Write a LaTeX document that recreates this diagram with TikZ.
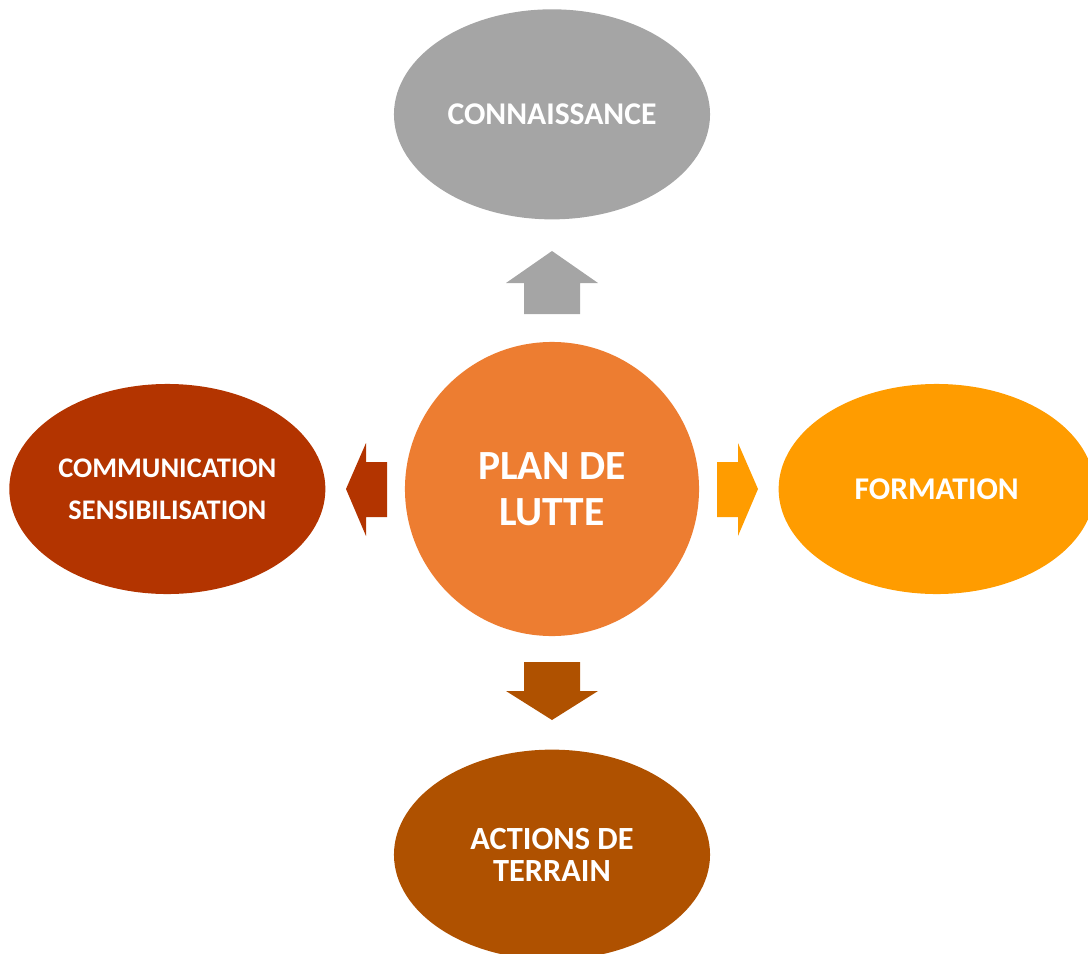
\documentclass[tikz,border=0pt]{standalone}
\usepackage{fontspec}
\setmainfont{Carlito}
\usepackage{xcolor}
\definecolor{colorKnow}{HTML}{A5A5A5}
\definecolor{colorPlan}{HTML}{ED7D31}
\definecolor{colorComm}{HTML}{B33400}
\definecolor{colorTrain}{HTML}{FF9C00}
\definecolor{colorField}{HTML}{AF5100}
\usepackage{tikz}
\usetikzlibrary{positioning, shapes.geometric}
\tikzset{
  topic/.style={ellipse, inner sep=0pt, minimum width=7.9cm, minimum height=5.25cm,
    text=white, align=center, font=\bfseries},
  hub/.style={circle, inner sep=0pt, minimum size=7.35cm, fill=colorPlan,
    text=white, align=center, font=\bfseries\fontsize{29.5}{32.5}\selectfont}
}

\begin{document}
\begin{tikzpicture}[x=0.025cm, y=-0.025cm]
\useasboundingbox (0,0) rectangle (1088,954);
\node[hub] (plan) at (552,489) {PLAN DE\\LUTTE};
\node[topic, fill=colorKnow, above=3.05cm of plan, font=\bfseries\fontsize{22.5}{26}\selectfont] (know) {CONNAISSANCE};
\node[topic, fill=colorComm, left=1.975cm of plan, font=\bfseries\fontsize{20.2}{30}\selectfont] (comm) {COMMUNICATION\\SENSIBILISATION};
\node[topic, fill=colorTrain, right=1.975cm of plan, font=\bfseries\fontsize{22.5}{26}\selectfont] (train) {FORMATION};
\node[topic, fill=colorField, below=2.825cm of plan, font=\bfseries\fontsize{23}{23}\selectfont] (field) {ACTIONS DE\\TERRAIN};
% block arrows
\fill[colorKnow] (524,314) -- (524,283) -- (506,283) -- (552,251) -- (598,283) -- (580,283) -- (580,314) -- cycle;
\fill[colorField] (524,662) -- (524,691) -- (506,691) -- (552,720) -- (598,691) -- (580,691) -- (580,662) -- cycle;
\fill[colorComm] (387,462) -- (366,462) -- (366,443) -- (346,489) -- (366,536) -- (366,517) -- (387,517) -- cycle;
\fill[colorTrain] (717,462) -- (738,462) -- (738,443) -- (758,489) -- (738,536) -- (738,517) -- (717,517) -- cycle;
\end{tikzpicture}
\end{document}
